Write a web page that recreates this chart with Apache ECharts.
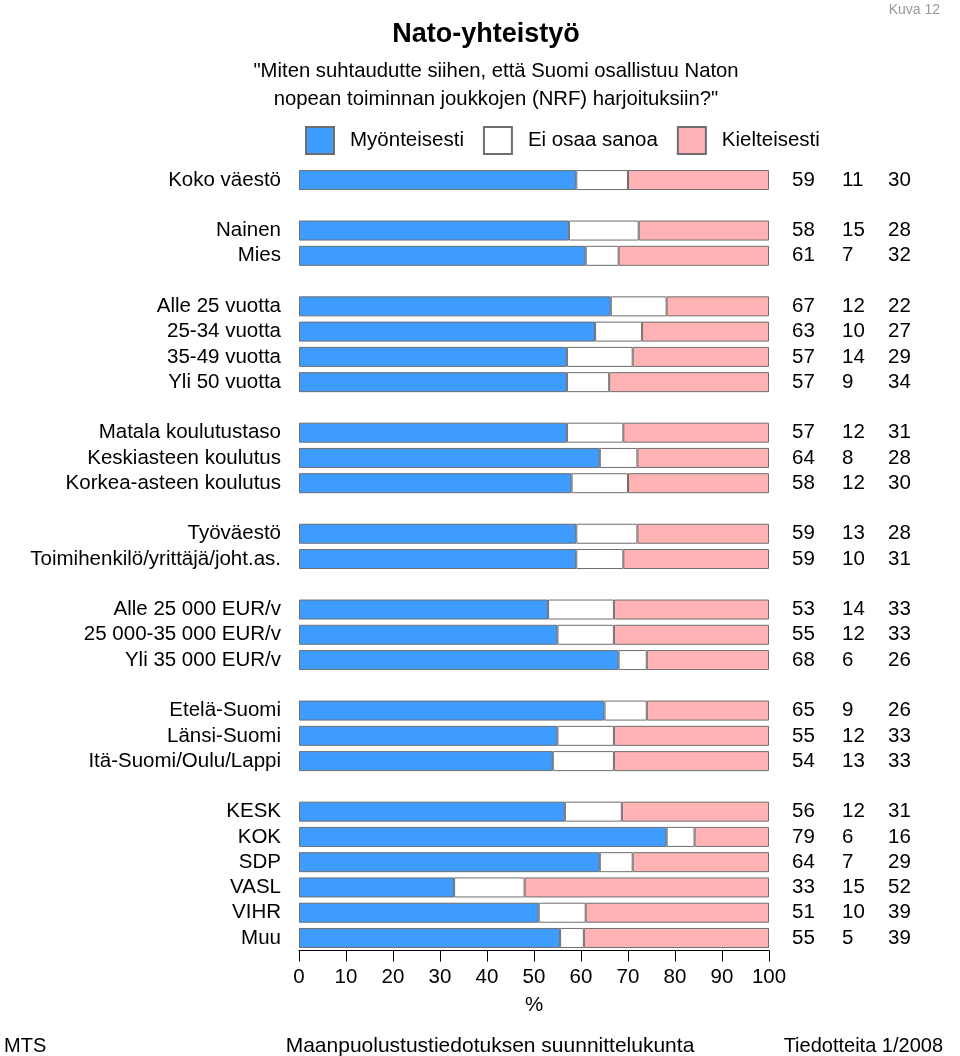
<!DOCTYPE html>
<html><head><meta charset="utf-8">
<script src="https://cdn.jsdelivr.net/npm/echarts@6/dist/echarts.min.js"></script>
<style>html,body{margin:0;padding:0;background:#fff}#c{width:960px;height:1056px}</style>
</head><body><div id="c"></div>
<script>
const categories = ['Koko väestö','','Nainen','Mies','','Alle 25 vuotta','25-34 vuotta','35-49 vuotta','Yli 50 vuotta','','Matala koulutustaso','Keskiasteen koulutus','Korkea-asteen koulutus','','Työväestö','Toimihenkilö/yrittäjä/joht.as.','','Alle 25 000 EUR/v','25 000-35 000 EUR/v','Yli 35 000 EUR/v','','Etelä-Suomi','Länsi-Suomi','Itä-Suomi/Oulu/Lappi','','KESK','KOK','SDP','VASL','VIHR','Muu'];
const myonteisesti = [59,null,58,61,null,67,63,57,57,null,57,64,58,null,59,59,null,53,55,68,null,65,55,54,null,56,79,64,33,51,55];
const eiOsaa =       [11,null,15,7,null,12,10,14,9,null,12,8,12,null,13,10,null,14,12,6,null,9,12,13,null,12,6,7,15,10,5];
const kielteisesti = [30,null,28,32,null,22,27,29,34,null,31,28,30,null,28,31,null,33,33,26,null,26,33,33,null,31,16,29,52,39,39];
const xTicks = [0,10,20,30,40,50,60,70,80,90,100];

const FONT = '"Liberation Sans", Arial, sans-serif';
const norm = (arr) => arr.map((v,i) => {
  if (v == null) return null;
  const s = myonteisesti[i] + eiOsaa[i] + kielteisesti[i];
  return v / s * 100;
});
const chart = echarts.init(document.getElementById('c'), null, {renderer:'canvas'});
const border = {borderColor:'#6e6e6e', borderWidth:1};
const FS = 20.5;
chart.setOption({
  animation:false,
  backgroundColor:'#fff',
  textStyle:{fontFamily:FONT},
  title:[
    {text:'Nato-yhteistyö', left:481, top:16, textAlign:'center', textStyle:{fontFamily:FONT, fontSize:27, fontWeight:'bold', color:'#000'}},
    {text:'"Miten suhtaudutte siihen, että Suomi osallistuu Naton\nnopean toiminnan joukkojen (NRF) harjoituksiin?"', left:491, top:52, textAlign:'center', textStyle:{fontFamily:FONT, fontSize:20.3, fontWeight:'normal', color:'#000', lineHeight:28}},
    {text:'Kuva 12', right:15, top:-2, textStyle:{fontFamily:FONT, fontSize:14, fontWeight:'normal', color:'#999'}},
    {text:'MTS', left:-1, top:1031, textStyle:{fontFamily:FONT, fontSize:20, fontWeight:'normal', color:'#000'}},
    {text:'Maanpuolustustiedotuksen suunnittelukunta', left:485, top:1031, textAlign:'center', textStyle:{fontFamily:FONT, fontSize:21, fontWeight:'normal', color:'#000'}},
    {text:'Tiedotteita 1/2008', right:12, top:1031, textStyle:{fontFamily:FONT, fontSize:20, fontWeight:'normal', color:'#000'}}
  ],
  legend:{
    left:300, top:121, itemWidth:28, itemHeight:27, itemGap:19, icon:'rect',
    textStyle:{fontSize:FS, color:'#000', padding:[0,0,0,11]},
    data:['Myönteisesti','Ei osaa sanoa','Kielteisesti']
  },
  grid:{left:299, right:191, top:167.4, bottom:105.4, containLabel:false},
  xAxis:{
    type:'value', min:0, max:100, interval:10,
    axisLine:{show:true, lineStyle:{color:'#000', width:1}},
    axisTick:{show:true, length:11, lineStyle:{color:'#000'}},
    axisLabel:{fontSize:FS, color:'#000', margin:16, formatter:(v)=> xTicks.includes(v) ? String(v) : ''},
    splitLine:{show:false},
    name:'%', nameLocation:'middle', nameGap:44, nameTextStyle:{fontSize:FS, color:'#000'}
  },
  yAxis:[
    {type:'category', data:categories, inverse:true,
     axisLine:{show:false}, axisTick:{show:false},
     axisLabel:{fontSize:FS, color:'#000', margin:18, interval:0}},
    {type:'category', data:categories, inverse:true, position:'right',
     axisLine:{show:false}, axisTick:{show:false},
     axisLabel:{interval:0, margin:23, align:'left',
       formatter:(v, i) => myonteisesti[i] == null ? '' : '{a|' + myonteisesti[i] + '}{b|' + eiOsaa[i] + '}{c|' + kielteisesti[i] + '}',
       rich:{a:{width:50, fontSize:FS, color:'#000', align:'left'}, b:{width:46, fontSize:FS, color:'#000', align:'left'}, c:{width:40, fontSize:FS, color:'#000', align:'left'}}}}
  ],
  series:[
    {name:'Myönteisesti', type:'bar', stack:'s', barWidth:20, data:norm(myonteisesti), itemStyle:Object.assign({color:'#3f9cff'}, border)},
    {name:'Ei osaa sanoa', type:'bar', stack:'s', barWidth:20, data:norm(eiOsaa), itemStyle:Object.assign({color:'#ffffff'}, border)},
    {name:'Kielteisesti', type:'bar', stack:'s', barWidth:20, data:norm(kielteisesti), itemStyle:Object.assign({color:'#ffb3b5'}, border)}
  ]
});
</script></body></html>
